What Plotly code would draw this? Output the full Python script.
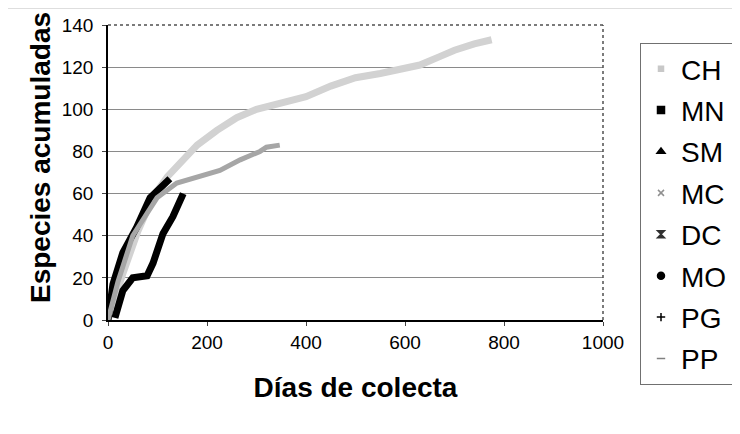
import plotly.graph_objects as go

# Data (días de colecta, especies acumuladas)
ch_x = [0, 10, 30, 60, 90, 120, 150, 180, 220, 260, 300, 350, 400, 450, 500, 550, 600, 630, 670, 700, 740, 775]
ch_y = [0, 8, 22, 42, 58, 68, 76, 83, 90, 96, 100, 103, 106, 111, 115, 117, 119, 121, 125, 128, 131, 133]

mn_x = [0, 5, 10, 30, 58, 85, 99, 119, 125]
mn_y = [0, 10, 17, 32, 44, 58, 61, 66, 67]

sm_x = [14, 30, 50, 79, 91, 111, 131, 149, 152]
sm_y = [1, 14, 20, 21, 27, 41, 49, 58, 60]

dc_x = [0, 20, 50, 99, 139, 186, 226, 267, 307, 320, 347]
dc_y = [0, 18, 40, 58, 65, 68, 71, 76, 80, 82, 83]

legend_names = ["CH", "MN", "SM", "MC", "DC", "MO", "PG", "PP"]
legend_symbols = ["square", "square", "triangle-up", "x-thin-open", "hourglass", "circle", "cross-thin-open", "line-ew-open"]
legend_colors = ["#c8c8c8", "#000000", "#000000", "#909090", "#303030", "#000000", "#000000", "#808080"]
legend_sizes = [5, 7, 7, 6, 7, 7, 6, 6]

y_ticks = [0, 20, 40, 60, 80, 100, 120, 140]
x_ticks = [0, 200, 400, 600, 800, 1000]

# page body has an 8px margin; figure is sized to fit the 740x434 window
W, H = 732, 426
OFF = 8

fig = go.Figure()

# data curves
fig.add_trace(go.Scatter(x=ch_x, y=ch_y, mode="lines", line=dict(color="#d2d2d2", width=7),
                         showlegend=False, hoverinfo="skip"))
fig.add_trace(go.Scatter(x=mn_x, y=mn_y, mode="lines", line=dict(color="#000000", width=7),
                         showlegend=False))
fig.add_trace(go.Scatter(x=sm_x, y=sm_y, mode="lines", line=dict(color="#000000", width=7),
                         showlegend=False))
fig.add_trace(go.Scatter(x=dc_x, y=dc_y, mode="lines", line=dict(color="#a6a6a6", width=5),
                         showlegend=False))

# legend entries
for n, s, c, sz in zip(legend_names, legend_symbols, legend_colors, legend_sizes):
    fig.add_trace(go.Scatter(x=[None], y=[None], mode="markers", name=n, legendgroup=n,
                             marker=dict(symbol=s, color=c, size=sz, line=dict(color=c, width=1.5))))

L, R, T, B = 108 - OFF, W - (603 - OFF), 25 - OFF, H - (320 - OFF)
fig.update_layout(
    width=W, height=H,
    margin=dict(l=L, r=R, t=T, b=B, autoexpand=False),
    paper_bgcolor="white", plot_bgcolor="white",
    font=dict(family="Liberation Sans, Arial", color="#000000"),
    legend=dict(xref="container", yref="container", x=(640 - OFF) / W, y=1 - (43 - OFF) / H,
                xanchor="left", yanchor="top", maxheight=410, tracegroupgap=2,
                bordercolor="#707070", borderwidth=1, font=dict(size=28),
                itemwidth=30),
    shapes=[
        dict(type="line", xref="paper", yref="paper", x0=-1, x1=2, y0=(H - B) / (H - T - B) - 0.0001,
             y1=(H - B) / (H - T - B) - 0.0001, line=dict(color="#c0c0c0", width=1)),
    ],
    annotations=[
        dict(text="<b>Especies acumuladas</b>", xref="paper", yref="paper",
             x=(40 - 108) / 495, y=(320 - 158) / 295, textangle=-90,
             showarrow=False, font=dict(size=28), xanchor="center", yanchor="middle"),
    ],
)

fig.update_xaxes(range=[0, 1000], tickvals=x_ticks, ticks="outside", ticklen=4,
                 tickfont=dict(size=19), showgrid=False, zeroline=False, automargin=False,
                 showline=True, linecolor="#000000", linewidth=1.5, mirror=False,
                 title=dict(text="<b>Días de colecta</b>", font=dict(size=28), standoff=26))
fig.update_yaxes(range=[0, 140], tickvals=y_ticks, ticks="outside", ticklen=4,
                 ticklabelstandoff=5, automargin=False,
                 tickfont=dict(size=19), showgrid=True, gridcolor="#8a8a8a", gridwidth=1,
                 zeroline=False, showline=True, linecolor="#000000", linewidth=1.5)

# top and right plot borders (dotted)
fig.add_shape(type="line", xref="paper", yref="paper", x0=0, x1=1, y0=1, y1=1,
              line=dict(color="#505050", width=1.5, dash="dot"))
fig.add_shape(type="line", xref="paper", yref="paper", x0=1, x1=1, y0=0, y1=1,
              line=dict(color="#505050", width=1.5, dash="dot"))

fig.write_html("out.html")
